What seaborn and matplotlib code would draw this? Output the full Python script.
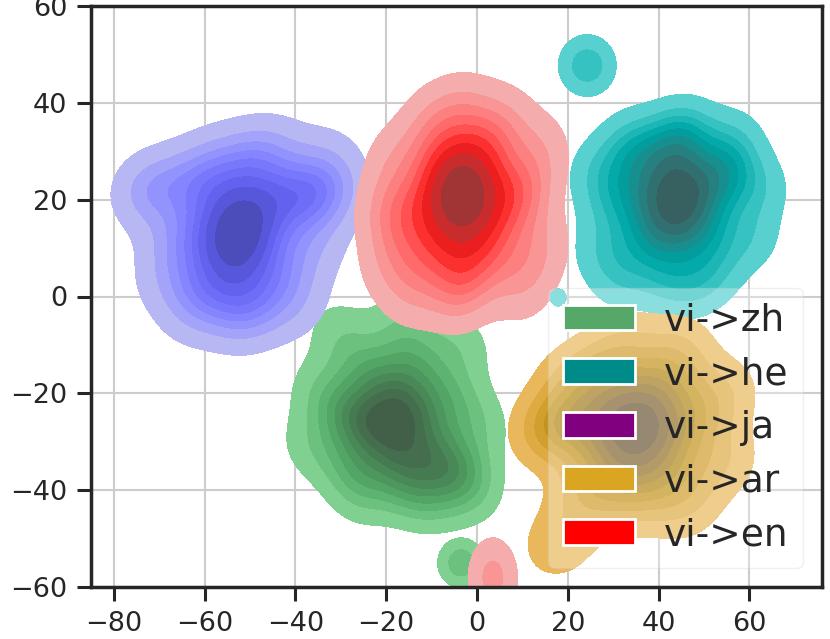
import matplotlib
matplotlib.use("Agg")
import matplotlib.pyplot as plt
from matplotlib.patches import Patch
import seaborn as sns

# legend entries (label, colour in legend)
labels = ["vi->zh", "vi->he", "vi->ja", "vi->ar", "vi->en"]
legend_colors = ["#55a868", "#008b8b", "#800080", "#daa520", "#ff0000"]

# main clusters: hand placed points + weights
zh_x = [-18, -18, -18, -12, -24, -28, -10, -4, -14, -24, -26, -16, -6, -34, -30, -16, -4, 0, -2, -12, -26, -36, -8]
zh_y = [-26, -20, -32, -24, -26, -25, -32, -35, -14, -16, -35, -38, -20, -20, -8, -6, -10, -26, -39, -41, -40, -31, -38]
zh_w = [2.5, 2.5, 2.5, 2.5, 2.5, 2.5, 2.2, 2, 2, 2, 2, 2, 1.5, 1.2, 1.2, 1.2, 1.2, 1.2, 1.2, 1.2, 1.2, 1.2, 1.5]

ja_x = [-53, -53, -53, -47, -59, -47, -40, -35, -59, -50, -44, -60, -52, -66, -72, -64, -58, -45, -34, -36, -40, -50, -62, -68, -31]
ja_y = [12, 18, 6, 12, 12, 20, 21, 20, 22, 28, 4, 2, -2, 12, 22, 24, 28, 30, 28, 10, -2, -4, -3, 4, 22]
ja_w = [2.5, 2.5, 2.5, 2.2, 2.2, 2.2, 2.2, 2, 2, 2, 2, 2, 2, 1.5, 2.5, 1.2, 1.2, 1.2, 1.2, 1.2, 1.2, 1.2, 1.2, 1.2, 1]

en_x = [-3, -3, -3, -9, 3, 10, -8, 2, -10, 4, -3, -16, -19, -18, -10, -3, 6, 14, 14, 10, -4, -14, -20]
en_y = [20, 26, 14, 20, 20, 21, 28, 30, 10, 10, 5, 16, 7, 28, 36, 38, 36, 30, 10, 2, 0, 1, 18]
en_w = [2.5, 2.5, 2.5, 2.5, 2.5, 2.3, 2, 2, 2, 2, 2, 1.5, 1.2, 1.2, 1.2, 1.5, 1.2, 1.2, 1.2, 1.2, 1.2, 1.2, 1.2]

he_x = [44, 44, 44, 38, 50, 55, 50, 38, 36, 44, 30, 28, 32, 42, 52, 60, 62, 56, 46, 34, 27, 48]
he_y = [20, 14, 26, 20, 22, 26, 14, 12, 28, 32, 20, 10, 4, 4, 6, 12, 22, 32, 34, 32, 26, 2]
he_w = [2.5, 2.5, 2.5, 2.5, 2.5, 2.3, 2, 2, 2, 2, 1.5, 1.2, 1.2, 1.5, 1.2, 1.2, 1.2, 1.2, 1.2, 1.2, 1.2, 1]

ar_x = [35, 35, 35, 29, 41, 22, 16, 28, 42, 28, 42, 35, 48, 21, 32, 44, 54, 54, 46, 24, 18]
ar_y = [-27, -21, -33, -27, -27, -26, -27, -18, -18, -36, -36, -41, -26, -17, -10, -11, -20, -34, -43, -42, -51]
ar_w = [2.5, 2.5, 2.5, 2.5, 2.5, 2.2, 2, 2, 2, 2, 2, 1.5, 1.5, 1.2, 1.2, 1.2, 1.2, 1.2, 1.2, 1.2, 1.2]

# small satellite blobs
he_sat1_x = [23.3, 25.3, 24.3, 24.3]
he_sat1_y = [47.7, 47.7, 46.7, 48.7]
he_sat2_x = [17.4, 18.4, 17.9, 17.9]
he_sat2_y = [-0.2, -0.2, -0.7, 0.3]
zh_sat_x = [-4.5, -2.5, -3.5, -3.5]
zh_sat_y = [-55, -55, -56, -54]
en_sat_x = [2.5, 4.5, 3.5, 3.5]
en_sat_y = [-58, -58, -59.5, -56.5]

sns.set_style("ticks")
plt.rcParams["font.family"] = ["DejaVu Sans"]

fig = plt.figure(figsize=(8.3, 6.39), dpi=100)
ax = fig.add_axes([91 / 830, 52 / 639, 731 / 830, 581 / 639])
ax.set_axisbelow(True)
ax.grid(True, color="#cccccc", linewidth=1.5)


def cluster(x, y, w, color):
    sns.kdeplot(x=x, y=y, weights=w, fill=True, color=color, bw_adjust=0.9, ax=ax)
    return ax.collections[-1].get_facecolor()


def satellite(x, y, bw, levels, colors):
    sns.kdeplot(x=x, y=y, fill=True, bw_method=bw, levels=levels,
                color=colors[0], colors=colors, ax=ax)


fc_zh = cluster(zh_x, zh_y, zh_w, "#55a868")
fc_ja = cluster(ja_x, ja_y, ja_w, "blue")
fc_en = cluster(en_x, en_y, en_w, "red")
satellite(zh_sat_x, zh_sat_y, 2.45, [0.05, 0.45, 1], [fc_zh[0], fc_zh[1]])
satellite(en_sat_x, en_sat_y, 2.6, [0.05, 0.62, 1], [fc_en[0], fc_en[1]])
fc_he = cluster(he_x, he_y, he_w, "darkcyan")
satellite(he_sat1_x, he_sat1_y, 3.1, [0.05, 0.47, 1], [fc_he[0], fc_he[1]])
satellite(he_sat2_x, he_sat2_y, 1.58, [0.05, 1], [fc_he[0]])
fc_ar = cluster(ar_x, ar_y, ar_w, "goldenrod")

ax.set_xlim(-85, 76)
ax.set_ylim(-60, 60)
ax.set_xticks([-80, -60, -40, -20, 0, 20, 40, 60])
ax.set_yticks([-60, -40, -20, 0, 20, 40, 60])
ax.set_xlabel("")
ax.set_ylabel("")
ax.tick_params(labelsize=19.5, length=10, width=2.2, pad=7, color="#262626")
for sp in ax.spines.values():
    sp.set_linewidth(2.5)
    sp.set_color("#262626")

handles = [Patch(facecolor=c, edgecolor="white", linewidth=2) for c in legend_colors]
ax.legend(handles, labels, loc="lower right", fontsize=27, handlelength=1.92,
          handleheight=0.67, handletextpad=0.76, borderaxespad=0.5, labelspacing=0.47,
          framealpha=0.3)

fig.savefig("out.png", dpi=100)
